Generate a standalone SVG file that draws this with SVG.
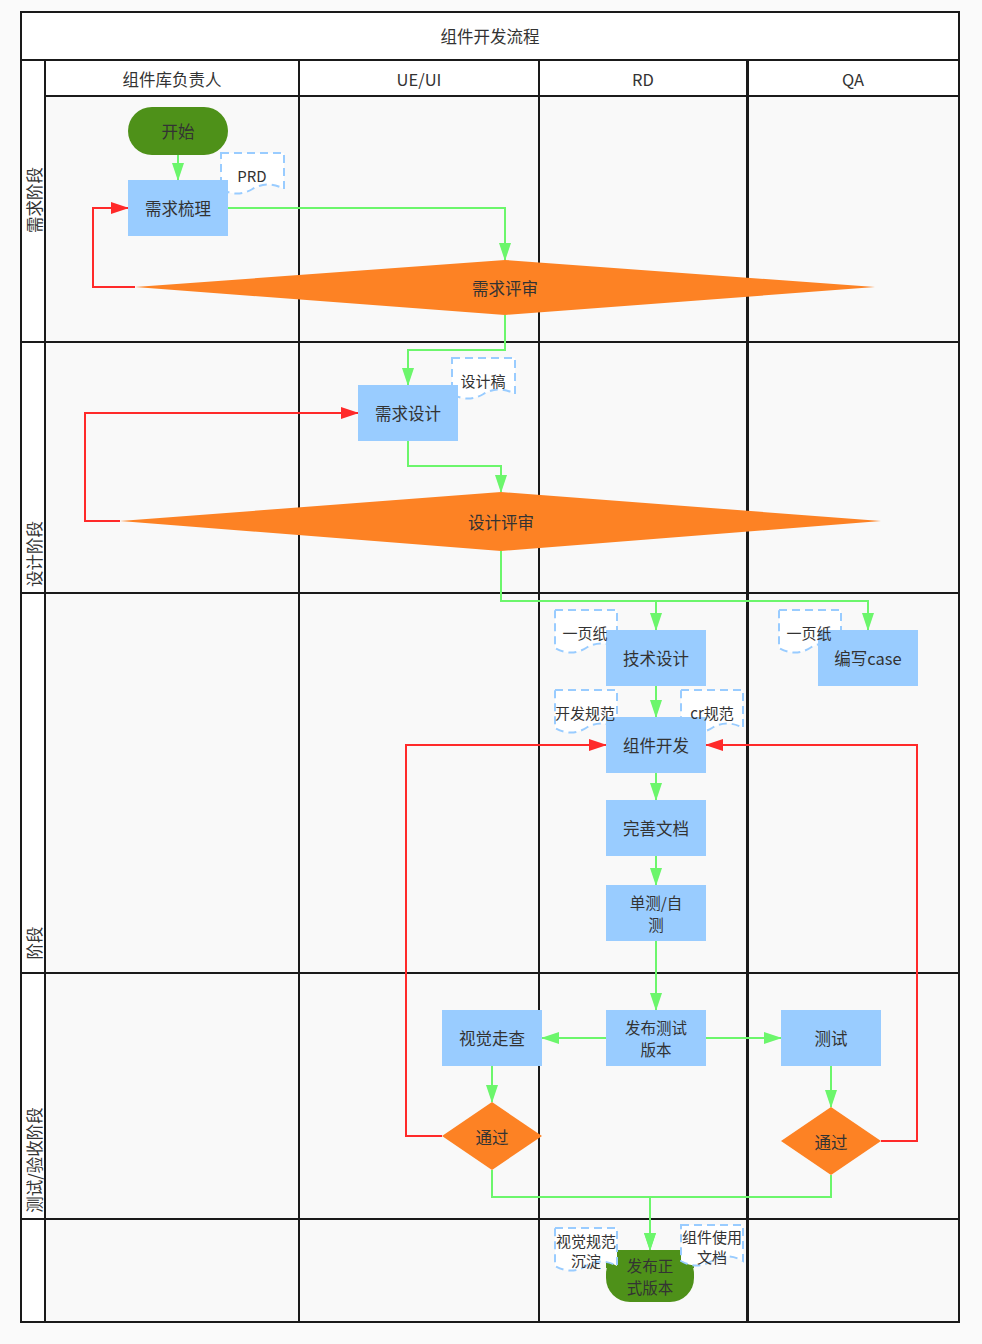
<svg xmlns="http://www.w3.org/2000/svg" width="982" height="1344" viewBox="0 0 982 1344">
<style>
  text { font-family: "Noto Sans CJK SC", "Noto Sans", "Liberation Sans", sans-serif; fill: #333; font-size: 16.5px; text-anchor: middle; dominant-baseline: central; }
  text.d { font-size: 15px; }
  text.m { font-size: 15.5px; }
  .cell { fill: #f9f9f9; }
  .hdr { fill: #ffffff; }
  .grid { stroke: #1a1a1a; stroke-width: 2; fill: none; }
  .proc { fill: #99ccff; }
  .term { fill: #4e9119; }
  .dec { fill: #fd8224; }
  .docshape { fill: #ffffff; stroke: #99ccff; stroke-width: 2; stroke-dasharray: 8 5; }
  .g { fill: none; stroke: #6cf66c; stroke-width: 2; marker-end: url(#ag); }
  .r { fill: none; stroke: #ff2a2a; stroke-width: 2; marker-end: url(#ar); }
</style>
<defs>
  <marker id="ag" markerWidth="18" markerHeight="12" refX="17" refY="6" orient="auto" markerUnits="userSpaceOnUse">
    <path d="M0,0 L18,6 L0,12 Z" fill="#6cf66c"/>
  </marker>
  <marker id="ar" markerWidth="18" markerHeight="12" refX="17" refY="6" orient="auto" markerUnits="userSpaceOnUse">
    <path d="M0,0 L18,6 L0,12 Z" fill="#ff2a2a"/>
  </marker>
</defs>
<rect x="0" y="0" width="982" height="1344" fill="#fafafa"/>
<g id="pool">
  <rect x="21" y="12" width="938" height="1310" class="hdr"/>
  <rect x="45" y="96" width="914" height="1226" class="cell"/>
  <rect x="21" y="12" width="938" height="1310" class="grid"/>
  <path class="grid" d="M21 60 H959 M45 96 H959 M21 342 H959 M21 593 H959 M21 973 H959 M21 1219 H959 M45 60 V1322 M299 60 V1322 M539 60 V1322 M747 60 V1322"/>
  <path d="M748.5 60 V1322" stroke="#1a1a1a" stroke-width="1"/>
  <text x="490" y="36">组件开发流程</text>
  <text x="172" y="79">组件库负责人</text>
  <text x="419" y="79">UE/UI</text>
  <text x="643" y="79">RD</text>
  <text x="853" y="79">QA</text>
  <text transform="translate(34,200) rotate(-90)">需求阶段</text>
  <text transform="translate(34,554) rotate(-90)">设计阶段</text>
  <text transform="translate(34,943) rotate(-90)">阶段</text>
  <text transform="translate(34,1160) rotate(-90)">测试/验收阶段</text>
</g>
<g id="connectors">
  <path class="g" d="M178 155 V180"/>
  <path class="g" d="M228 208 H505 V260"/>
  <path class="r" d="M135 287 H93 V208 H128"/>
  <path class="g" d="M505 315 V350 H408 V385"/>
  <path class="g" d="M408 441 V466 H501 V492"/>
  <path class="r" d="M120 521 H85 V413 H358"/>
  <path class="g" d="M501 551 V601 H656 V630"/>
  <path class="g" d="M501 601 H868 V630"/>
  <path class="g" d="M656 686 V717"/>
  <path class="g" d="M656 773 V800"/>
  <path class="g" d="M656 856 V885"/>
  <path class="g" d="M656 941 V1010"/>
  <path class="g" d="M606 1038 H542"/>
  <path class="g" d="M706 1038 H781"/>
  <path class="g" d="M492 1066 V1102"/>
  <path class="g" d="M831 1066 V1107"/>
  <path class="r" d="M442 1136 H406 V745 H606"/>
  <path class="r" d="M881 1141 H917 V745 H706"/>
  <path class="g" d="M492 1170 V1197 H650 V1250"/>
  <path class="g" d="M831 1175 V1197 H650 V1250"/>
</g>
<g id="doc-prd">
  <path class="docshape" d="M221 153 H284 V189 Q268 180 252.5 189 Q237 198 221 189 Z"/>
</g>
<g id="doc-design">
  <path class="docshape" d="M452 358 H515 V394 Q499 385 483.5 394 Q468 403 452 394 Z"/>
</g>
<g id="doc-onepage1">
  <path class="docshape" d="M555 610 H617 V648 Q601 639 586 648 Q571 657 555 648 Z"/>
</g>
<g id="doc-onepage2">
  <path class="docshape" d="M779 610 H841 V648 Q825 639 810 648 Q795 657 779 648 Z"/>
</g>
<g id="doc-devspec">
  <path class="docshape" d="M555 690 H617 V728 Q601 719 586 728 Q571 737 555 728 Z"/>
</g>
<g id="doc-crspec">
  <path class="docshape" d="M681 690 H743 V728 Q727 719 712 728 Q697 737 681 728 Z"/>
</g>
<g id="start">
  <rect x="128" y="107" width="100" height="48" rx="24" class="term"/>
  <text x="178" y="131">开始</text>
</g>
<g id="req-sort">
  <rect x="128" y="180" width="100" height="56" class="proc"/>
  <text x="178" y="208">需求梳理</text>
</g>
<g id="req-review">
  <polygon points="135,287 505,260 875,287 505,315" class="dec"/>
  <text x="505" y="288">需求评审</text>
</g>
<g id="req-design">
  <rect x="358" y="385" width="100" height="56" class="proc"/>
  <text x="408" y="413">需求设计</text>
</g>
<g id="design-review">
  <polygon points="120,521 501,492 881,521 501,551" class="dec"/>
  <text x="501" y="522">设计评审</text>
</g>
<g id="tech-design">
  <rect x="606" y="630" width="100" height="56" class="proc"/>
  <text x="656" y="658">技术设计</text>
</g>
<g id="write-case">
  <rect x="818" y="630" width="100" height="56" class="proc"/>
  <text x="868" y="658">编写case</text>
</g>
<g id="comp-dev">
  <rect x="606" y="717" width="100" height="56" class="proc"/>
  <text x="656" y="745">组件开发</text>
</g>
<g id="doc-improve">
  <rect x="606" y="800" width="100" height="56" class="proc"/>
  <text x="656" y="828">完善文档</text>
</g>
<g id="unit-test">
  <rect x="606" y="885" width="100" height="56" class="proc"/>
  <text class="m" x="656" y="902">单测/自<tspan x="656" dy="22">测</tspan></text>
</g>
<g id="release-test">
  <rect x="606" y="1010" width="100" height="56" class="proc"/>
  <text class="m" x="656" y="1027">发布测试<tspan x="656" dy="22">版本</tspan></text>
</g>
<g id="visual-check">
  <rect x="442" y="1010" width="100" height="56" class="proc"/>
  <text x="492" y="1038">视觉走查</text>
</g>
<g id="qa-test">
  <rect x="781" y="1010" width="100" height="56" class="proc"/>
  <text x="831" y="1038">测试</text>
</g>
<g id="pass-ue">
  <polygon points="442,1136 492,1102 542,1136 492,1170" class="dec"/>
  <text x="492" y="1137">通过</text>
</g>
<g id="pass-qa">
  <polygon points="781,1141 831,1107 881,1141 831,1175" class="dec"/>
  <text x="831" y="1142">通过</text>
</g>
<g id="release-final">
  <rect x="606" y="1250" width="88" height="52" rx="24" class="term"/>
  <path d="M606 1250 H694 V1268 H606 Z" class="term"/>
</g>
<g id="doc-visual-spec">
  <path class="docshape" d="M555 1228 H617 V1266 Q601 1257 586 1266 Q571 1275 555 1266 Z"/>
  <text class="d" x="586" y="1240">视觉规范<tspan x="586" dy="20">沉淀</tspan></text>
</g>
<g id="doc-usage">
  <path class="docshape" d="M681 1225 H743 V1261 Q727 1252 712 1261 Q697 1270 681 1261 Z"/>
  <text class="d" x="712" y="1236">组件使用<tspan x="712" dy="20">文档</tspan></text>
</g>
<g id="release-final-label">
  <text class="m" x="650" y="1265">发布正<tspan x="650" dy="22">式版本</tspan></text>
</g>
<g id="doc-labels">
  <text class="d" x="252" y="175">PRD</text>
  <text class="d" x="483" y="380">设计稿</text>
  <text class="d" x="585" y="632">一页纸</text>
  <text class="d" x="809" y="632">一页纸</text>
  <text class="d" x="585" y="712">开发规范</text>
  <text class="d" x="712" y="712">cr规范</text>
</g>
</svg>
